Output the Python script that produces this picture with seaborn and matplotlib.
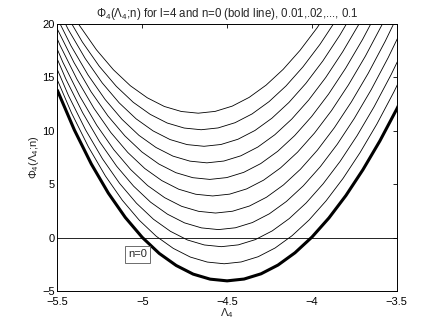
import pandas as pd
import matplotlib
matplotlib.use("Agg")
import matplotlib.pyplot as plt
import seaborn as sns

# curves Phi_4(Lambda_4; n) (n=0 is the bold one)
n_labels = ["0", "0.01", "0.02", "0.03", "0.04", "0.05", "0.06", "0.07", "0.08", "0.09", "0.1"]

lam_n0 = [-5.5, -5.4, -5.3, -5.2, -5.1, -5.0, -4.9, -4.8, -4.7, -4.6, -4.5,
          -4.4, -4.3, -4.2, -4.1, -4.0, -3.9, -3.8, -3.7, -3.6, -3.5, -3.4]
phi_n0 = [13.79, 10.08, 6.89, 4.17, 1.89, 0.02, -1.48, -2.61, -3.42, -3.89, -4.05,
          -3.88, -3.39, -2.57, -1.42, 0.05, 1.84, 3.94, 6.35, 9.05, 12.05, 15.33]

lam_n1 = [-5.517, -5.417, -5.317, -5.217, -5.117, -5.017, -4.917, -4.817, -4.717, -4.617, -4.517,
          -4.417, -4.317, -4.217, -4.117, -4.017, -3.917, -3.817, -3.717, -3.617, -3.517, -3.417]
phi_n1 = [15.39, 11.68, 8.49, 5.77, 3.49, 1.62, 0.12, -1.01, -1.82, -2.29, -2.45,
          -2.28, -1.79, -0.97, 0.18, 1.65, 3.44, 5.54, 7.95, 10.65, 13.65, 16.93]

lam_n2 = [-5.534, -5.434, -5.334, -5.234, -5.134, -5.034, -4.934, -4.834, -4.734, -4.634, -4.534,
          -4.434, -4.334, -4.234, -4.134, -4.034, -3.934, -3.834, -3.734, -3.634, -3.534, -3.434]
phi_n2 = [16.99, 13.28, 10.09, 7.37, 5.09, 3.22, 1.72, 0.59, -0.22, -0.69, -0.85,
          -0.68, -0.19, 0.63, 1.78, 3.25, 5.04, 7.14, 9.55, 12.25, 15.25, 18.53]

lam_n3 = [-5.551, -5.451, -5.351, -5.251, -5.151, -5.051, -4.951, -4.851, -4.751, -4.651, -4.551,
          -4.451, -4.351, -4.251, -4.151, -4.051, -3.951, -3.851, -3.751, -3.651, -3.551, -3.451]
phi_n3 = [18.59, 14.88, 11.69, 8.97, 6.69, 4.82, 3.32, 2.19, 1.38, 0.91, 0.75,
          0.92, 1.41, 2.23, 3.38, 4.85, 6.64, 8.74, 11.15, 13.85, 16.85, 20.13]

lam_n4 = [-5.568, -5.468, -5.368, -5.268, -5.168, -5.068, -4.968, -4.868, -4.768, -4.668, -4.568,
          -4.468, -4.368, -4.268, -4.168, -4.068, -3.968, -3.868, -3.768, -3.668, -3.568, -3.468]
phi_n4 = [20.14, 16.43, 13.24, 10.52, 8.24, 6.37, 4.87, 3.74, 2.93, 2.46, 2.3,
          2.47, 2.96, 3.78, 4.93, 6.40, 8.19, 10.29, 12.70, 15.40, 18.40, 21.68]

lam_n5 = [-5.585, -5.485, -5.385, -5.285, -5.185, -5.085, -4.985, -4.885, -4.785, -4.685, -4.585,
          -4.485, -4.385, -4.285, -4.185, -4.085, -3.985, -3.885, -3.785, -3.685, -3.585, -3.485]
phi_n5 = [21.74, 18.03, 14.84, 12.12, 9.84, 7.97, 6.47, 5.34, 4.53, 4.06, 3.9,
          4.07, 4.56, 5.38, 6.53, 8.00, 9.79, 11.89, 14.30, 17.00, 20.00, 23.28]

lam_n6 = [-5.602, -5.502, -5.402, -5.302, -5.202, -5.102, -5.002, -4.902, -4.802, -4.702, -4.602,
          -4.502, -4.402, -4.302, -4.202, -4.102, -4.002, -3.902, -3.802, -3.702, -3.602, -3.502]
phi_n6 = [23.29, 19.58, 16.39, 13.67, 11.39, 9.52, 8.02, 6.89, 6.08, 5.61, 5.45,
          5.62, 6.11, 6.93, 8.08, 9.55, 11.34, 13.44, 15.85, 18.55, 21.55, 24.83]

lam_n7 = [-5.619, -5.519, -5.419, -5.319, -5.219, -5.119, -5.019, -4.919, -4.819, -4.719, -4.619,
          -4.519, -4.419, -4.319, -4.219, -4.119, -4.019, -3.919, -3.819, -3.719, -3.619, -3.519]
phi_n7 = [24.84, 21.13, 17.94, 15.22, 12.94, 11.07, 9.57, 8.44, 7.63, 7.16, 7.0,
          7.17, 7.66, 8.48, 9.63, 11.10, 12.89, 14.99, 17.40, 20.10, 23.10, 26.38]

lam_n8 = [-5.636, -5.536, -5.436, -5.336, -5.236, -5.136, -5.036, -4.936, -4.836, -4.736, -4.636,
          -4.536, -4.436, -4.336, -4.236, -4.136, -4.036, -3.936, -3.836, -3.736, -3.636, -3.536]
phi_n8 = [26.39, 22.68, 19.49, 16.77, 14.49, 12.62, 11.12, 9.99, 9.18, 8.71, 8.55,
          8.72, 9.21, 10.03, 11.18, 12.65, 14.44, 16.54, 18.95, 21.65, 24.65, 27.93]

lam_n9 = [-5.653, -5.553, -5.453, -5.353, -5.253, -5.153, -5.053, -4.953, -4.853, -4.753, -4.653,
          -4.553, -4.453, -4.353, -4.253, -4.153, -4.053, -3.953, -3.853, -3.753, -3.653, -3.553]
phi_n9 = [27.94, 24.23, 21.04, 18.32, 16.04, 14.17, 12.67, 11.54, 10.73, 10.26, 10.1,
          10.27, 10.76, 11.58, 12.73, 14.20, 15.99, 18.09, 20.50, 23.20, 26.20, 29.48]

lam_n10 = [-5.67, -5.57, -5.47, -5.37, -5.27, -5.17, -5.07, -4.97, -4.87, -4.77, -4.67,
           -4.57, -4.47, -4.37, -4.27, -4.17, -4.07, -3.97, -3.87, -3.77, -3.67, -3.57]
phi_n10 = [29.49, 25.78, 22.59, 19.87, 17.59, 15.72, 14.22, 13.09, 12.28, 11.81, 11.65,
           11.82, 12.31, 13.13, 14.28, 15.75, 17.54, 19.64, 22.05, 24.75, 27.75, 31.03]

lam_all = [lam_n0, lam_n1, lam_n2, lam_n3, lam_n4, lam_n5, lam_n6, lam_n7, lam_n8, lam_n9, lam_n10]
phi_all = [phi_n0, phi_n1, phi_n2, phi_n3, phi_n4, phi_n5, phi_n6, phi_n7, phi_n8, phi_n9, phi_n10]

x_ticks = [-5.5, -5, -4.5, -4, -3.5]
y_ticks = [-5, 0, 5, 10, 15, 20]

rows = []
for lab, xs, ys in zip(n_labels, lam_all, phi_all):
    for x, y in zip(xs, ys):
        rows.append({"n": lab, "lam": x, "phi": y})
df = pd.DataFrame(rows)

sns.set_style("white")
plt.rcParams["font.family"] = ["Liberation Sans", "DejaVu Sans"]
plt.rcParams["mathtext.default"] = "regular"

fig = plt.figure(figsize=(4.38, 3.29), dpi=100)
ax = fig.add_axes([0.131, 0.1155, 0.775, 0.8115])

for lab in n_labels:
    sub = df[df["n"] == lab]
    sns.lineplot(data=sub, x="lam", y="phi", color="black", sort=False, estimator=None,
                 linewidth=2.2 if lab == "0" else 0.6, ax=ax)

ax.axhline(0, color="black", linewidth=0.6)
ax.text(-5.028, -1.57, "n=0", fontsize=8, ha="center", va="center",
        bbox=dict(boxstyle="square,pad=0.3", facecolor="white", edgecolor="#555555", linewidth=0.6))

ax.set_xlim(-5.5, -3.5)
ax.set_ylim(-5, 20)
ax.set_xticks(x_ticks)
ax.set_xticklabels(["\u22125.5", "\u22125", "\u22124.5", "\u22124", "\u22123.5"])
ax.set_yticks(y_ticks)
ax.set_yticklabels(["\u22125", "0", "5", "10", "15", "20"])
ax.tick_params(direction="in", length=3, width=0.6, top=True, right=True,
               labelsize=8, colors="black")
ax.tick_params(axis="x", pad=4)
ax.tick_params(axis="y", pad=2)
for sp in ax.spines.values():
    sp.set_visible(True)
    sp.set_color("black")
    sp.set_linewidth(0.7)

ax.set_title("\u03a6$_4$(\u039b$_4$;n) for l=4 and n=0 (bold line), 0.01,.02,..., 0.1",
             fontsize=8.3, pad=5)
ax.set_xlabel("\u039b$_4$", fontsize=8, labelpad=0)
ax.set_ylabel("\u03a6$_4$(\u039b$_4$;n)", fontsize=8, labelpad=1)

fig.savefig("out.png", dpi=100)
